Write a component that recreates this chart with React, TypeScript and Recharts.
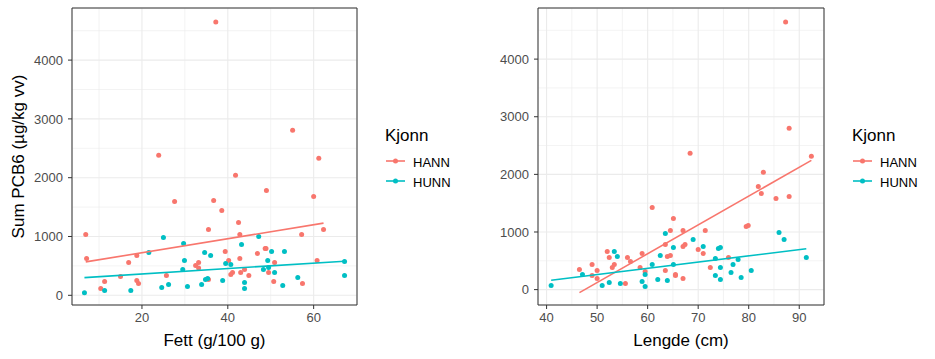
import React from 'react';
import {
  ScatterChart,
  Scatter,
  XAxis,
  YAxis,
  CartesianGrid,
  ReferenceArea,
  Legend,
} from 'recharts';

const RED = '#F8766D';
const BLUE = '#00BFC4';

const yTicks = [0, 1000, 2000, 3000, 4000];
const yMinor = [500, 1500, 2500, 3500, 4500];

// Fett (g/100 g) vs Sum PCB6
const fettTicks = [20, 40, 60];
const fettMinor = [10, 30, 50];
const fettHann = [
  [37.2, 4648], [55.1, 2807], [23.9, 2381], [61.2, 2330], [41.8, 2040], [49.0, 1784],
  [60.0, 1682], [27.6, 1597], [36.7, 1614], [38.6, 1443], [42.5, 1239], [35.5, 1119],
  [62.3, 1119], [6.9, 1034], [42.8, 1034], [57.2, 1034], [7.1, 625], [18.8, 676],
  [39.4, 744], [48.7, 795], [48.9, 795], [46.9, 710], [16.9, 557], [42.8, 625],
  [40.2, 591], [33.2, 557], [32.5, 506], [33.2, 466], [50.9, 557], [60.8, 591],
  [43.9, 438], [43.0, 386], [41.1, 386], [40.7, 352], [44.9, 335], [49.5, 386],
  [25.7, 335], [15.0, 318], [18.8, 250], [19.2, 199], [11.3, 233], [10.4, 114],
  [50.7, 233], [57.4, 199], [35.5, 267],
];
const fettHunn = [
  [25.0, 983], [47.2, 1000], [29.7, 881], [43.2, 864], [21.6, 727], [34.6, 727],
  [36.0, 676], [50.2, 744], [53.2, 744], [29.9, 591], [49.3, 591], [39.5, 540],
  [40.7, 523], [29.5, 438], [48.3, 438], [49.5, 472], [67.2, 574], [50.9, 386],
  [67.2, 335], [56.3, 301], [34.8, 267], [35.3, 284], [38.8, 250], [43.9, 216],
  [43.9, 114], [26.2, 182], [33.9, 182], [24.6, 131], [30.6, 148], [52.8, 165],
  [11.3, 80], [17.4, 80], [6.6, 45],
];
const fettHannFit = [[6.9, 568], [62.3, 1227]];
const fettHunnFit = [[6.6, 301], [67.2, 580]];

// Lengde (cm) vs Sum PCB6
const lengdeTicks = [40, 50, 60, 70, 80, 90];
const lengdeMinor = [45, 55, 65, 75, 85];
const lengdeHann = [
  [87.3, 4643], [88.0, 2800], [68.4, 2365], [92.4, 2313], [82.9, 2035], [81.9, 1791],
  [82.5, 1670], [88.0, 1617], [85.4, 1583], [60.9, 1426], [65.1, 1235], [64.5, 1026],
  [67.0, 1026], [71.4, 1026], [79.5, 1096], [79.9, 1113], [52.0, 661], [52.4, 557],
  [58.9, 626], [56.0, 557], [63.5, 783], [63.9, 574], [64.5, 591], [67.0, 748],
  [67.4, 783], [70.0, 696], [71.0, 626], [76.0, 557], [46.5, 348], [49.0, 435],
  [50.0, 330], [49.0, 243], [50.0, 191], [53.4, 435], [53.0, 383], [56.6, 487],
  [58.5, 383], [59.5, 313], [63.5, 330], [65.5, 243], [65.5, 261], [67.0, 191],
  [55.6, 104], [72.4, 383],
];
const lengdeHunn = [
  [86.0, 991], [87.0, 870], [69.0, 870], [63.5, 974], [65.1, 730], [71.0, 748],
  [53.4, 661], [54.0, 574], [74.0, 713], [74.4, 730], [62.5, 591], [73.4, 539],
  [77.9, 522], [76.9, 435], [60.9, 435], [65.1, 435], [74.4, 383], [80.5, 330],
  [47.1, 261], [59.5, 261], [73.4, 243], [76.5, 296], [62.0, 174], [63.9, 157],
  [74.4, 174], [78.5, 209], [52.4, 122], [54.6, 104], [58.9, 139], [51.0, 70],
  [59.5, 52], [40.9, 70], [91.4, 557],
];
const lengdeHannFit = [[46.5, -52], [92.4, 2243]];
const lengdeHunnFit = [[40.9, 162], [91.4, 710]];

const toPts = (arr: number[][]) => arr.map(([x, y]) => ({ x, y }));

const dot = (color: string) => (props: any) => (
  <circle cx={props.cx} cy={props.cy} r={2.5} fill={color} />
);
const noDot = () => <g />;

const KjonnLegend = () => (
  <svg width={95} height={72} style={{ overflow: 'visible' }}>
    <text x={2} y={21} fontSize={17} fill="#000">Kjonn</text>
    <line x1={3} x2={22} y1={41} y2={41} stroke={RED} strokeWidth={1.6} />
    <circle cx={12.5} cy={41} r={2.5} fill={RED} />
    <text x={30} y={46.5} fontSize={13} fill="#000">HANN</text>
    <line x1={3} x2={22} y1={61} y2={61} stroke={BLUE} strokeWidth={1.6} />
    <circle cx={12.5} cy={61} r={2.5} fill={BLUE} />
    <text x={30} y={66.5} fontSize={13} fill="#000">HUNN</text>
  </svg>
);

type PanelProps = {
  width: number;
  marginLeft: number;
  marginRight: number;
  yAxisWidth: number;
  xDomain: number[];
  yDomain: number[];
  xTicks: number[];
  xMinor: number[];
  xLabel: string;
  yLabel?: string;
  hann: number[][];
  hunn: number[][];
  hannFit: number[][];
  hunnFit: number[][];
  legendLeft: number;
};

const Panel = (p: PanelProps) => (
  <ScatterChart
    width={p.width}
    height={359}
    margin={{ top: 8, right: p.marginRight, bottom: 4, left: p.marginLeft }}
  >
    <CartesianGrid
      stroke="#EBEBEB"
      strokeWidth={0.6}
      horizontalValues={yMinor}
      verticalValues={p.xMinor}
    />
    <CartesianGrid stroke="#EBEBEB" strokeWidth={1.1} />
    <XAxis
      type="number"
      dataKey="x"
      domain={p.xDomain}
      ticks={p.xTicks}
      allowDataOverflow
      axisLine={false}
      tickLine={{ stroke: '#333333' }}
      tickSize={4}
      tickMargin={4}
      tick={{ fill: '#4D4D4D', fontSize: 13 }}
      height={50}
      label={{ value: p.xLabel, position: 'insideBottom', offset: 9, fill: '#000', fontSize: 17 }}
    />
    <YAxis
      type="number"
      dataKey="y"
      domain={p.yDomain}
      ticks={yTicks}
      allowDataOverflow
      axisLine={false}
      tickLine={{ stroke: '#333333' }}
      tickSize={4}
      tickMargin={5}
      tick={{ fill: '#4D4D4D', fontSize: 13 }}
      width={p.yAxisWidth}
      label={
        p.yLabel
          ? {
              value: p.yLabel,
              angle: -90,
              position: 'insideLeft',
              offset: 6,
              fill: '#000',
              fontSize: 17,
              style: { textAnchor: 'middle' },
            }
          : undefined
      }
    />
    <Scatter data={toPts(p.hann)} fill={RED} shape={dot(RED)} isAnimationActive={false} />
    <Scatter data={toPts(p.hunn)} fill={BLUE} shape={dot(BLUE)} isAnimationActive={false} />
    <Scatter
      data={toPts(p.hannFit)}
      line={{ stroke: RED, strokeWidth: 1.6 }}
      shape={noDot}
      isAnimationActive={false}
    />
    <Scatter
      data={toPts(p.hunnFit)}
      line={{ stroke: BLUE, strokeWidth: 1.6 }}
      shape={noDot}
      isAnimationActive={false}
    />
    <ReferenceArea
      x1={p.xDomain[0]}
      x2={p.xDomain[1]}
      y1={p.yDomain[0]}
      y2={p.yDomain[1]}
      fill="none"
      stroke="#333333"
      strokeWidth={1}
      ifOverflow="visible"
    />
    <Legend
      layout="horizontal"
      align="center"
      verticalAlign="middle"
      content={() => <KjonnLegend />}
      wrapperStyle={{ left: p.legendLeft, top: 120, width: 95, height: 72 }}
    />
  </ScatterChart>
);

export default function App() {
  return (
    <div
      style={{
        position: 'absolute',
        left: 0,
        top: 0,
        width: 935,
        height: 359,
        background: '#fff',
        display: 'flex',
        fontFamily: '"Liberation Sans", Arial, sans-serif',
      }}
    >
      <Panel
        width={470}
        marginLeft={12}
        marginRight={113}
        yAxisWidth={60}
        xDomain={[3.7, 70.1]}
        yDomain={[-165, 4886]}
        xTicks={fettTicks}
        xMinor={fettMinor}
        xLabel="Fett (g/100 g)"
        yLabel="Sum PCB6 (µg/kg vv)"
        hann={fettHann}
        hunn={fettHunn}
        hannFit={fettHannFit}
        hunnFit={fettHunnFit}
        legendLeft={383}
      />
      <Panel
        width={465}
        marginLeft={12}
        marginRight={111}
        yAxisWidth={56}
        xDomain={[38.3, 94.9]}
        yDomain={[-267, 4887]}
        xTicks={lengdeTicks}
        xMinor={lengdeMinor}
        xLabel="Lengde (cm)"
        hann={lengdeHann}
        hunn={lengdeHunn}
        hannFit={lengdeHannFit}
        hunnFit={lengdeHunnFit}
        legendLeft={380}
      />
    </div>
  );
}
